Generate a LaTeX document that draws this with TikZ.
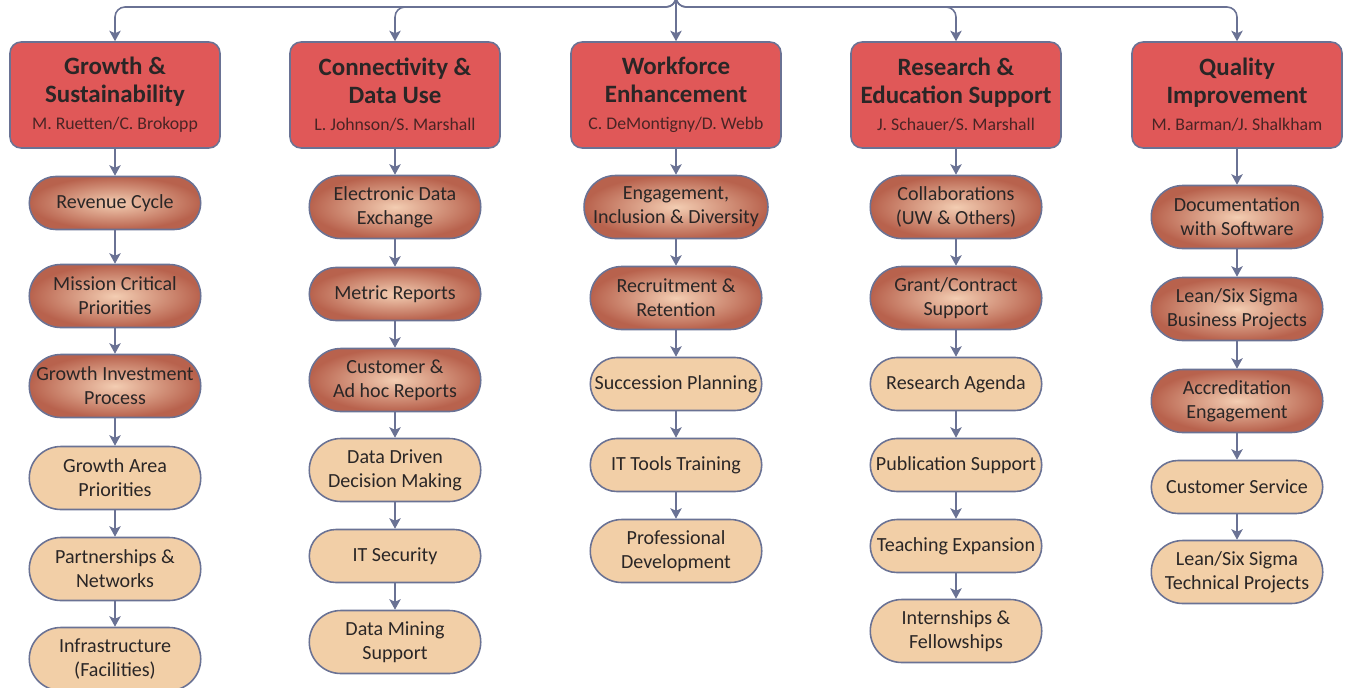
\documentclass[tikz,border=0pt]{standalone}
\usepackage{fontspec}
\setmainfont{Carlito}
\usetikzlibrary{shapes.misc,arrows.meta}
\definecolor{edge}{HTML}{6A7294}
\definecolor{headred}{HTML}{E05858}
\definecolor{peach}{HTML}{F2CFA7}
\definecolor{shout}{HTML}{B8624D}
\definecolor{shin}{HTML}{F3CDB2}
\definecolor{txt}{HTML}{2A2626}
\definecolor{nametxt}{HTML}{4A2424}
\tikzset{
  hdbox/.style={draw=edge, line width=0.9pt, fill=headred, rounded corners=0.22cm,
    minimum width=4.2cm, minimum height=2.12cm, align=center, text=txt, inner sep=2pt,
    font=\fontsize{14.2}{15.9}\selectfont\bfseries},
  pillbase/.style={draw=edge, line width=0.9pt, rounded rectangle, minimum width=3.5cm,
    align=center, text=txt, inner sep=1pt, font=\fontsize{11.4}{13.7}\selectfont},
  pilldark/.style={pillbase, shading=radial, inner color=shin, outer color=shout},
  pilllight/.style={pillbase, fill=peach},
  oneline/.style={minimum height=1.06cm},
  twoline/.style={minimum height=1.26cm},
  conn/.style={draw=edge, line width=0.9pt, -{Stealth[length=6pt,width=6.5pt,inset=1.5pt]}},
}
\newcommand{\nm}{\mdseries\fontsize{10.1}{11}\selectfont\color{nametxt}}
\begin{document}
\begin{tikzpicture}[x=0.02cm,y=-0.02cm]
\useasboundingbox (0,0) rectangle (1348,687);
\coordinate (src) at (676,-20);
\coordinate (bus) at (0,7);
% headers
\node[hdbox] (h1) at (115,95) {Growth \&\\Sustainability\\[-0.5pt]{\nm M. Ruetten/C. Brokopp}};
\node[hdbox] (h2) at (395,95) {Connectivity \&\\Data Use\\[-0.5pt]{\nm L. Johnson/S. Marshall}};
\node[hdbox] (h3) at (676,95) {Workforce\\Enhancement\\[-0.5pt]{\nm C. DeMontigny/D. Webb}};
\node[hdbox] (h4) at (956,95) {Research \&\\Education Support\\[-0.5pt]{\nm J. Schauer/S. Marshall}};
\node[hdbox] (h5) at (1237,95) {Quality\\Improvement\\[-0.5pt]{\nm M. Barman/J. Shalkham}};
% top connectors
\foreach \h in {h1,h2,h4,h5}{
  \draw[conn, rounded corners=0.2cm] (src) |- (\h.north |- bus) -- (\h.north);
}
\draw[conn] (src) -- (h3.north);
% column 1
\node[pilldark,oneline] (a1) at (115,203) {Revenue Cycle};
\node[pilldark,twoline] (a2) at (115,296) {Mission Critical\\Priorities};
\node[pilldark,twoline] (a3) at (115,386) {Growth Investment\\Process};
\node[pilllight,twoline] (a4) at (115,478) {Growth Area\\Priorities};
\node[pilllight,twoline] (a5) at (115,569) {Partnerships \&\\Networks};
\node[pilllight,twoline] (a6) at (115,659) {Infrastructure\\(Facilities)};
% column 2
\node[pilldark,twoline] (b1) at (395,207) {Electronic Data\\Exchange};
\node[pilldark,oneline] (b2) at (395,294) {Metric Reports};
\node[pilldark,twoline] (b3) at (395,380) {Customer \&\\Ad hoc Reports};
\node[pilllight,twoline] (b4) at (395,470) {Data Driven\\Decision Making};
\node[pilllight,oneline] (b5) at (395,556) {IT Security};
\node[pilllight,twoline] (b6) at (395,642) {Data Mining\\Support};
% column 3
\node[pilldark,twoline] (c1) at (676,207) {Engagement,\\Inclusion \& Diversity};
\node[pilldark,twoline] (c2) at (676,298) {Recruitment \&\\Retention};
\node[pilllight,oneline] (c3) at (676,384) {Succession Planning};
\node[pilllight,oneline] (c4) at (676,465) {IT Tools Training};
\node[pilllight,twoline] (c5) at (676,551) {Professional\\Development};
% column 4
\node[pilldark,twoline] (d1) at (956,207) {Collaborations\\(UW \& Others)};
\node[pilldark,twoline] (d2) at (956,298) {Grant/Contract\\Support};
\node[pilllight,oneline] (d3) at (956,384) {Research Agenda};
\node[pilllight,oneline] (d4) at (956,465) {Publication Support};
\node[pilllight,oneline] (d5) at (956,546) {Teaching Expansion};
\node[pilllight,twoline] (d6) at (956,631) {Internships \&\\Fellowships};
% column 5
\node[pilldark,twoline] (e1) at (1237,217) {Documentation\\with Software};
\node[pilldark,twoline] (e2) at (1237,309) {Lean/Six Sigma\\Business Projects};
\node[pilldark,twoline] (e3) at (1237,401) {Accreditation\\Engagement};
\node[pilllight,oneline] (e4) at (1237,487) {Customer Service};
\node[pilllight,twoline] (e5) at (1237,572) {Lean/Six Sigma\\Technical Projects};
% column connectors
\foreach \a/\b in {h1/a1,a1/a2,a2/a3,a3/a4,a4/a5,a5/a6,
                   h2/b1,b1/b2,b2/b3,b3/b4,b4/b5,b5/b6,
                   h3/c1,c1/c2,c2/c3,c3/c4,c4/c5,
                   h4/d1,d1/d2,d2/d3,d3/d4,d4/d5,d5/d6,
                   h5/e1,e1/e2,e2/e3,e3/e4,e4/e5}{
  \draw[conn] (\a.south) -- (\b.north);
}
\end{tikzpicture}
\end{document}
